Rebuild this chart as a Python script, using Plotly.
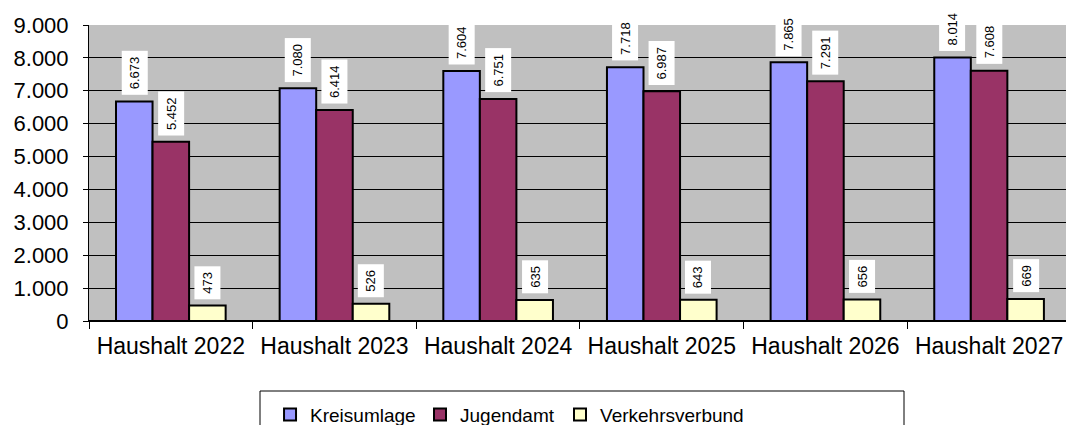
import plotly.graph_objects as go

categories = ["Haushalt 2022", "Haushalt 2023", "Haushalt 2024", "Haushalt 2025", "Haushalt 2026", "Haushalt 2027"]
kreisumlage = [6673, 7080, 7604, 7718, 7865, 8014]
jugendamt = [5452, 6414, 6751, 6987, 7291, 7608]
verkehrsverbund = [473, 526, 635, 643, 656, 669]

series = [
    ("Kreisumlage", kreisumlage, "#9999FF"),
    ("Jugendamt", jugendamt, "#993366"),
    ("Verkehrsverbund", verkehrsverbund, "#FFFFCC"),
]
legend_ids = ["legend", "legend2", "legend3"]
legend_x = [0.1853, 0.3388, 0.4821]

FONT = "Liberation Sans, Arial"
bargap = 0.33
fig = go.Figure()
for (name, vals, col), lid in zip(series, legend_ids):
    fig.add_trace(go.Bar(
        x=categories, y=vals, name=name, legend=lid,
        marker=dict(color=col, line=dict(color="black", width=2)),
    ))

def fmt(v):
    return f"{v:,}".replace(",", ".")

w = (1 - bargap) / len(series)
annotations = []
for j, (name, vals, col) in enumerate(series):
    for i, v in enumerate(vals):
        annotations.append(dict(
            x=i + (j - 1) * w, y=v, xref="x", yref="y",
            text=fmt(v), textangle=-90, showarrow=False,
            yanchor="bottom", yshift=6, bgcolor="white", borderpad=5,
            font=dict(family=FONT, size=13, color="black"),
        ))

legend_style = dict(
    orientation="h", xanchor="left", y=-0.252, yanchor="top",
    borderwidth=0, bgcolor="rgba(0,0,0,0)",
    font=dict(size=19), itemsizing="constant",
)

fig.update_layout(
    width=1066, height=425,
    margin=dict(l=89, r=0, t=25, b=104, autoexpand=False),
    paper_bgcolor="white", plot_bgcolor="#C0C0C0",
    barmode="group", bargap=bargap, bargroupgap=0,
    separators=",.",
    font=dict(family=FONT, color="black"),
    annotations=annotations,
    showlegend=True,
    legend=dict(x=legend_x[0], **legend_style),
    legend2=dict(x=legend_x[1], **legend_style),
    legend3=dict(x=legend_x[2], **legend_style),
    shapes=[dict(
        type="rect", xref="paper", yref="paper",
        x0=(260 - 89) / 977, x1=(904 - 89) / 977,
        y0=-(391 - 321) / 296, y1=-0.45,
        line=dict(color="black", width=1), fillcolor="white", layer="below",
    )],
)
fig.update_xaxes(
    type="category", range=[-0.5, 5.47], tickson="boundaries",
    ticks="outside", ticklen=7, tickcolor="black", tickwidth=1,
    showline=True, linecolor="black", linewidth=1, ticklabelstandoff=4,
    tickfont=dict(size=23), showgrid=False, automargin=False,
)
fig.update_yaxes(
    range=[0, 9000], dtick=1000, tickformat=",d",
    showgrid=True, gridcolor="black", gridwidth=1,
    showline=True, linecolor="black", linewidth=1,
    ticks="outside", ticklen=5, tickcolor="black", ticklabelstandoff=10,
    tickfont=dict(size=22), zeroline=True, zerolinecolor="black",
    automargin=False,
)

fig.write_html(
    "out.html",
    config={"displayModeBar": False},
    post_script="document.body.style.margin='0';document.body.style.overflow='hidden';",
)
